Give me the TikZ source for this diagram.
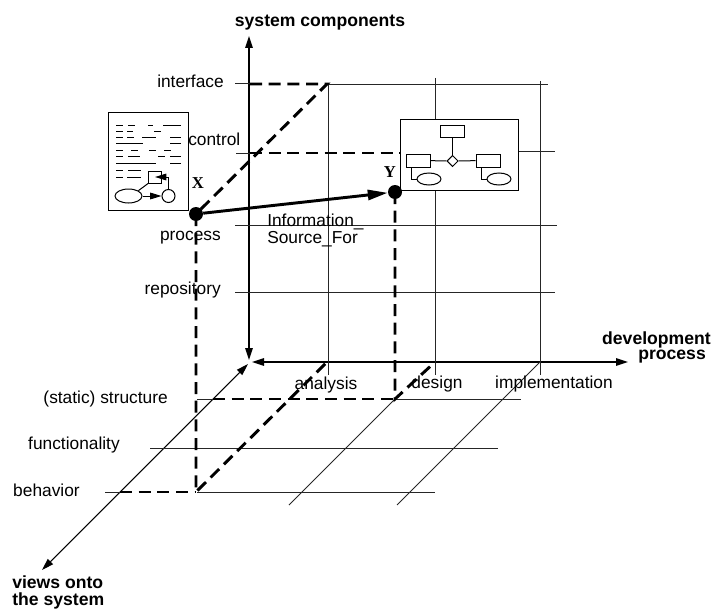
\documentclass[tikz,border=0pt]{standalone}
\usepackage{fontspec}
\setmainfont{Liberation Sans}
\newfontfamily\glyphserif{Liberation Serif}
\usetikzlibrary{arrows.meta,shapes.geometric,calc}
\begin{document}
\begin{tikzpicture}[x=0.75pt,y=-0.75pt,
  font=\fontsize{13}{15.6}\selectfont,
  gridline/.style={line width=0.75pt, black!85},
  axisline/.style={line width=1.3pt,
    {Triangle[length=9pt,width=5.5pt]}-{Triangle[length=9pt,width=5.5pt]}},
  guideline/.style={line width=2.2pt, dash pattern=on 9pt off 5pt},
  lbl/.style={inner sep=0pt},
  boldlbl/.style={inner sep=0pt, font=\fontsize{13.2}{15.6}\selectfont\bfseries},
  dotmark/.style={circle, fill, inner sep=0pt, minimum size=10.5pt},
  iconline/.style={line width=0.75pt},
  iconbox/.style={draw, iconline, fill=white, inner sep=0pt},
  smalltip/.style={-{Triangle[length=8.5pt,width=5pt]}},
]
\useasboundingbox (0,0) rectangle (714,610);

% ---- axes, all meeting at the origin
\coordinate (Ov) at (249,360);
\coordinate (Oh) at (252,362);
\coordinate (Od) at (248,364);
\coordinate (Vtop) at (249,36);
\coordinate (Hend) at (628,362);
\coordinate (Dend) at (42,570);
\draw[axisline] (Ov) -- (Vtop);
\draw[axisline] (Oh) -- (Hend);
\draw[axisline, line width=0.8pt] (Od) -- (Dend);

% ---- back plane: columns (process phases) and rows (components)
\draw[gridline] (328,85) -- (328,375);
\draw[gridline] (435,78) -- (435,375);
\draw[gridline] (540,81) -- (540,375);
\draw[gridline] (235,84) -- (250,84) (328,85) -- (548,85);
\draw[gridline] (236,153) -- (250,153) (518,151) -- (555,151);
\draw[gridline] (235,225) -- (557,225);
\draw[gridline] (235,292) -- (555,292);

% ---- floor: rows (views) and diagonals (process phases)
\draw[gridline] (197,399) -- (213,399) (395,399) -- (521,399);
\draw[gridline] (150,448) -- (498,448);
\draw[gridline] (105,492) -- (120,492) (197,492) -- (435,492);
\draw[gridline] (395,399) -- (289,505);
\draw[gridline] (540,362) -- (397,505);

% ---- positions of the two artefacts
\coordinate (Xpos) at (196,214);
\coordinate (Ypos) at (395,192);

% ---- dashed projection lines
\draw[guideline] (250,84) -- (327,84) -- (Xpos);
\draw[guideline] (250,153) -- (400,153);
\draw[guideline] (Xpos) -- (196,492) -- (327,362);
\draw[guideline] (120,492) -- (196,492);
\draw[guideline] (Ypos) -- (395,399) -- (435,362);
\draw[guideline] (213,399) -- (395,399);

% ---- document icon for X
\node[iconbox, anchor=north west, minimum width=60pt, minimum height=73.5pt] (doc) at (108,112) {};
\draw[iconline] (116,125)--(123,125) (128,125)--(135,125) (148,125)--(153,125) (163,125)--(181,125);
\draw[iconline] (116,131)--(123,131) (127,131)--(133,131) (154,131)--(161,131);
\draw[iconline] (116,137)--(123,137) (127,137)--(134,137) (142,137)--(156,137) (170,137)--(181,137);
\draw[iconline] (116,143)--(143,143) (170,143)--(181,143);
\draw[iconline] (116,150)--(123,150) (131,150)--(138,150) (149,150)--(156,150) (164,150)--(171,150);
\draw[iconline] (116,156)--(123,156) (128,156)--(140,156) (158,156)--(165,156) (170,156)--(181,156);
\draw[iconline] (116,163)--(156,163) (170,163)--(181,163);
\draw[iconline] (116,170)--(123,170) (128,170)--(141,170);
\draw[iconline] (116,177)--(123,177) (127,177)--(141,177);
\node[iconbox, minimum width=9.75pt, minimum height=9pt] (dsq) at (155,177) {};
\node[iconbox, ellipse, minimum width=20.25pt, minimum height=10.5pt] (dell) at (128.5,196) {};
\node[iconbox, circle, minimum size=9.75pt] (dcirc) at (168.5,196) {};
\draw[iconline, smalltip] (dell) -- (dcirc);
\draw[iconline] (dell.north east) -- (dsq.south west);
\draw[iconline, smalltip] (dcirc.north) |- ($(dsq.east)+(-7,0)$);

% ---- model icon for Y
\node[iconbox, anchor=north west, minimum width=88.5pt, minimum height=53.25pt] (model) at (400,119) {};
\node[iconbox, minimum width=18pt, minimum height=9pt] (ertop) at (452.5,131) {};
\node[iconbox, diamond, minimum width=8.5pt, minimum height=8.5pt] (erdia) at (452.5,161) {};
\node[iconbox, minimum width=18pt, minimum height=9.75pt] (erleft) at (418,160.5) {};
\node[iconbox, minimum width=18pt, minimum height=9.75pt] (erright) at (488,160.5) {};
\node[iconbox, ellipse, minimum width=18pt, minimum height=9pt] (ellL) at (429,179) {};
\node[iconbox, ellipse, minimum width=18pt, minimum height=9pt] (ellR) at (499,179) {};
\draw[iconline] (ertop) -- (erdia);
\draw[iconline] (erleft) -- (erdia) -- (erright);
\draw[iconline] ($(erleft.south west)+(6,0)$) |- (ellL.west);
\draw[iconline] ($(erright.south west)+(6,0)$) |- (ellR.west);

% ---- the two artefacts and their relation
\node[dotmark] (X) at (Xpos) {};
\node[dotmark] (Y) at (Ypos) {};
\draw[line width=2.2pt, -{Triangle[length=15pt,width=7.5pt]}] (X) -- (Y);
\node[lbl, anchor=base, font=\glyphserif\fontsize{12.5}{14}\selectfont\bfseries] (LX) at (198,188) {X};
\node[lbl, anchor=base, font=\glyphserif\fontsize{12.5}{14}\selectfont\bfseries] (LY) at (390,177) {Y};
\node[lbl, anchor=base west] (Linfo) at (267,226)
  {\vtop{\baselineskip=12.75pt\hbox{Information\_}\hbox{Source\_For}}};

% ---- axis titles
\node[boldlbl, anchor=base] (Lsys) at (320,27) {system components};
\node[boldlbl, anchor=base east] (Ldev) at (711,344)
  {\vtop{\setbox0=\hbox{development}\baselineskip=11.6pt
   \copy0 \hbox to\wd0{\hfill process\kern3.7pt}}};
\node[boldlbl, anchor=base west] (Lviews) at (12,588)
  {\vtop{\baselineskip=12.75pt\hbox{views onto}\hbox{the system}}};

% ---- component levels
\node[lbl, anchor=base east] (Linterface) at (224,88) {interface};
\node[lbl, anchor=base west] (Lcontrol) at (188,146) {control};
\node[lbl, anchor=base east] (Lprocess) at (221,240) {process};
\node[lbl, anchor=base east] (Lrepository) at (221,294) {repository};

% ---- process phases
\node[lbl, anchor=base] (Lanalysis) at (326,389) {analysis};
\node[lbl, anchor=base] (Ldesign) at (437,388) {design};
\node[lbl, anchor=base] (Limpl) at (554,388) {implementation};

% ---- views
\node[lbl, anchor=base east] (Lstructure) at (168,403) {(static) structure};
\node[lbl, anchor=base east] (Lfunc) at (120,449) {functionality};
\node[lbl, anchor=base east] (Lbehav) at (80,496) {behavior};
\end{tikzpicture}
\end{document}
